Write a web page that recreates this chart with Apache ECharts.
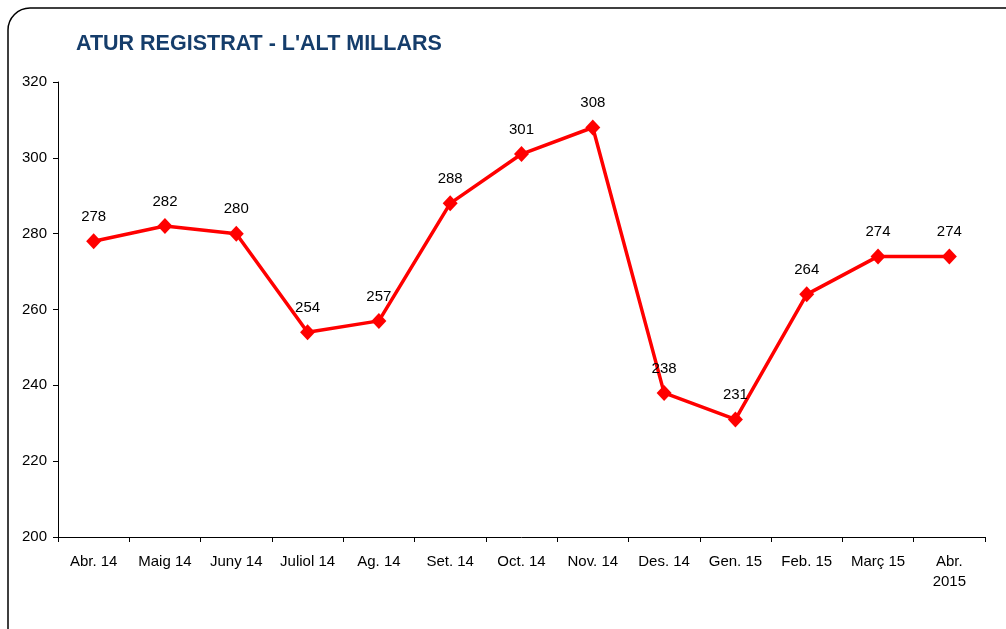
<!DOCTYPE html>
<html><head><meta charset="utf-8">
<script src="https://cdn.jsdelivr.net/npm/echarts@6/dist/echarts.min.js"></script>
<style>html,body{margin:0;padding:0;background:#fff}#c{width:1006px;height:629px}</style>
</head><body><div id="c"></div>
<script>
var categories = ["Abr. 14","Maig 14","Juny 14","Juliol 14","Ag. 14","Set. 14","Oct. 14","Nov. 14","Des. 14","Gen. 15","Feb. 15","Març 15","Abr.\n2015"];
var values = [278,282,280,254,257,288,301,308,238,231,264,274,274];
var yTicks = {min:200, max:320, interval:20};
var titleText = "ATUR REGISTRAT - L'ALT MILLARS";
var chart = echarts.init(document.getElementById('c'));
chart.setOption({
  animation:false,
  textStyle:{fontFamily:'Liberation Sans, Arial, sans-serif'},
  graphic:[{type:'rect',shape:{x:8,y:8,width:1030,height:650,r:22},style:{fill:'none',stroke:'#000',lineWidth:1.5},silent:true,z:-1}],
  title:{text:titleText,left:71,top:28,textStyle:{color:'#153d6b',fontSize:21.5,fontWeight:'bold',fontFamily:'Liberation Sans, Arial, sans-serif'}},
  grid:{left:58,right:21,top:82,bottom:92,containLabel:false},
  xAxis:{type:'category',data:categories,boundaryGap:true,
    axisLine:{lineStyle:{color:'#000',width:1}},
    axisTick:{show:true,length:5,inside:false,lineStyle:{color:'#000'}},
    axisLabel:{color:'#000',fontSize:15,margin:15,interval:0,lineHeight:20}},
  yAxis:{type:'value',min:yTicks.min,max:yTicks.max,interval:yTicks.interval,
    axisLine:{show:true,lineStyle:{color:'#000',width:1}},
    axisTick:{show:true,length:5,lineStyle:{color:'#000'}},
    splitLine:{show:false},
    axisLabel:{color:'#000',fontSize:15,margin:11}},
  series:[{type:'line',data:values,symbol:'diamond',symbolSize:[15,16],
    lineStyle:{color:'#ff0000',width:3.5},itemStyle:{color:'#ff0000'},
    label:{show:true,position:'top',distance:9,color:'#000',fontSize:15}}]
});
</script></body></html>
